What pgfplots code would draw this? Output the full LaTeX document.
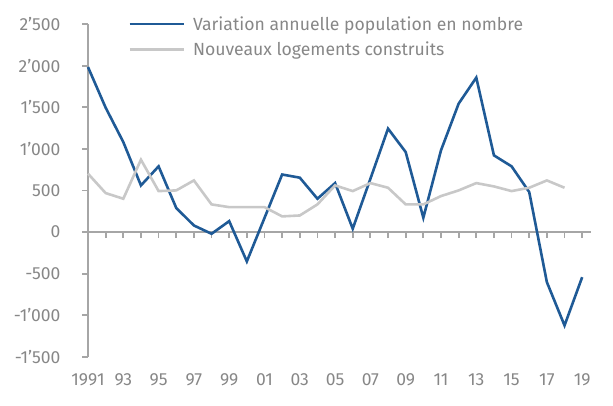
\documentclass[border=0pt]{standalone}
\usepackage{fontspec}
\setmainfont{Fira Sans}
\usepackage{pgfplots}
\pgfplotsset{compat=1.18}
\definecolor{blueline}{HTML}{1F5A96}
\definecolor{greyline}{HTML}{C8C8C8}
\definecolor{axisgrey}{HTML}{A6A6A6}
\definecolor{textgrey}{HTML}{878787}
\begin{document}
\begin{tikzpicture}
\path[use as bounding box] (0,0) rectangle (613pt,406pt);
\begin{axis}[
  at={(88pt,49pt)}, anchor=south west,
  scale only axis, width=503pt, height=333pt,
  xmin=1991, xmax=2019.5, ymin=-1500, ymax=2500,
  axis x line=middle, axis y line=left,
  hide obscured x ticks=false, hide obscured y ticks=false,
  axis line style={draw=axisgrey, line width=1.8pt, -},
  tick style={draw=axisgrey, line width=1.8pt},
  tick align=outside,
  major tick length=6pt, minor tick length=6pt,
  xtick={1991,1993,...,2019},
  minor xtick={1992,1994,...,2018},
  xticklabels={1991,93,95,97,99,01,03,05,07,09,11,13,15,17,19},
  ytick={-1500,-1000,...,2500},
  yticklabels={-1’500,-1’000,-500,0,500,1’000,1’500,2’000,2’500},
  ticklabel style={font=\fontsize{17.5}{20}\selectfont, text=textgrey},
  xticklabel style={yshift=-132pt},
  yticklabel style={xshift=-18pt, anchor=east},
  clip=false,
  legend style={at={(0.074,1.035)}, anchor=north west, draw=none, fill=none,
    font=\fontsize{17.6}{20}\selectfont, text=textgrey, row sep=6pt},
  legend cell align=left,
  legend image code/.code={\draw[#1] (0pt,0pt) -- (54pt,0pt); \path (60pt,0pt);},
]
\addplot[blueline, line width=2.6pt] coordinates {
(1991,1983) (1992,1495) (1993,1082) (1994,561) (1995,790) (1996,290)
(1997,80) (1998,-20) (1999,132) (2000,-352) (2001,170) (2002,692)
(2003,654) (2004,401) (2005,589) (2006,41) (2007,640) (2008,1243)
(2009,962) (2010,173) (2011,982) (2012,1543) (2013,1856) (2014,922)
(2015,790) (2016,481) (2017,-601) (2018,-1121) (2019,-541)};
\addlegendentry{Variation annuelle population en nombre}
\addplot[greyline, line width=2.6pt] coordinates {
(1991,702) (1992,469) (1993,401) (1994,870) (1995,493) (1996,501)
(1997,621) (1998,333) (1999,300) (2000,300) (2001,300) (2002,189)
(2003,200) (2004,333) (2005,561) (2006,493) (2007,589) (2008,533)
(2009,333) (2010,333) (2011,433) (2012,501) (2013,589) (2014,549)
(2015,493) (2016,533) (2017,621) (2018,533)};
\addlegendentry{Nouveaux logements construits}
\end{axis}
\end{tikzpicture}
\end{document}
